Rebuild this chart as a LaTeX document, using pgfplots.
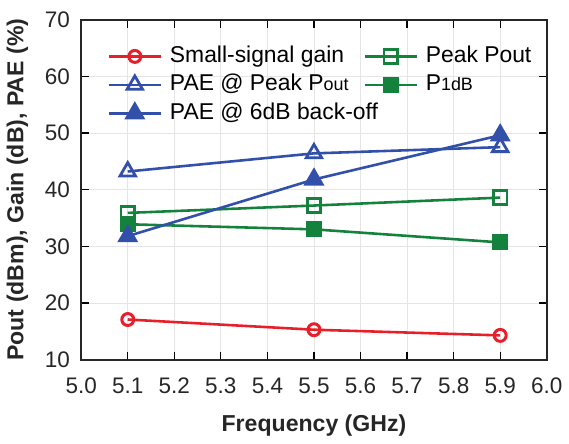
\documentclass[border={0pt 0pt 0pt 2.5pt}]{standalone}
\usepackage{pgfplots}
\pgfplotsset{compat=1.18}
\usepackage{fontspec}
\setmainfont{Liberation Sans}
\definecolor{cred}{RGB}{232,30,40}
\definecolor{cblue}{RGB}{50,80,170}
\definecolor{cgreen}{RGB}{20,130,60}
\newlength{\lgw}
\settowidth{\lgw}{\fontsize{11.5}{13}\selectfont PAE @ Peak P{\fontsize{9}{10}\selectfont out}}
\begin{document}
\begin{tikzpicture}
\begin{axis}[
  scale only axis,
  width=234pt, height=171pt,
  xmin=5.0, xmax=6.0, ymin=10, ymax=70,
  xtick={5.0,5.1,...,6.0},
  ytick={10,20,...,70},
  xticklabel style={yshift=-5.5pt, /pgf/number format/.cd,fixed,fixed zerofill,precision=1},
  /pgf/number format/assume math mode=true,
  tick align=inside,
  major tick length=4pt,
  tick style={black, line width=0.6pt},
  axis line style={line width=1pt, black!85},
  grid=major,
  grid style={gray!20, line width=0.4pt},
  ticklabel style={font=\fontsize{11.3}{13}\selectfont, text=black!85},
  yticklabel style={xshift=-2.2pt},
  xlabel={\textbf{Frequency (GHz)}},
  ylabel={\textbf{Pout (dBm), Gain (dB), PAE (\%)}},
  label style={font=\fontsize{11.6}{13}\selectfont, text=black!85},
  xlabel style={yshift=-4pt},
  ylabel style={yshift=1.5pt},
  legend columns=2,
  legend style={draw=none, fill=none, inner sep=0pt, at={(0.056,0.925)}, anchor=north west,
    font=\fontsize{11.5}{13}\selectfont, row sep=3.3pt, column sep=4pt,
    /tikz/every even column/.append style={column sep=7.5pt},
    nodes={inner ysep=0pt, inner xsep=0pt, text height=8.5pt, text depth=2.5pt}},
  legend cell align=left,
  legend image code/.code={\draw[mark repeat=2,mark phase=2] plot coordinates {(0cm,0cm) (13pt,0cm) (26pt,0cm)};},
  every axis plot/.append style={line width=1.3pt},
]
\addplot[cred, mark=o, mark size=3.0pt, mark options={line width=1.5pt, fill=white}]
  coordinates {(5.1,17.1) (5.5,15.3) (5.9,14.3)};
\addlegendentry{Small-signal gain}
\addplot[cgreen, mark=square, mark size=3.4pt, mark options={line width=1.4pt, fill=white}]
  coordinates {(5.1,35.9) (5.5,37.2) (5.9,38.6)};
\addlegendentry{Peak Pout}
\addplot[cblue, mark=triangle, mark size=4.5pt, mark options={line width=1.4pt, fill=white}]
  coordinates {(5.1,43.2) (5.5,46.4) (5.9,47.5)};
\addlegendentry{PAE @ Peak P{\fontsize{9}{10}\selectfont out}}
\addplot[cgreen, mark=square*, mark size=3.4pt]
  coordinates {(5.1,33.9) (5.5,33.0) (5.9,30.7)};
\addlegendentry{P{\fontsize{9}{10}\selectfont 1dB}}
\addplot[cblue, mark=triangle*, mark size=4.8pt]
  coordinates {(5.1,31.8) (5.5,41.8) (5.9,49.6)};
\addlegendentry{\makebox[\lgw][l]{PAE @ 6dB back-off}}
\end{axis}
\end{tikzpicture}
\end{document}
